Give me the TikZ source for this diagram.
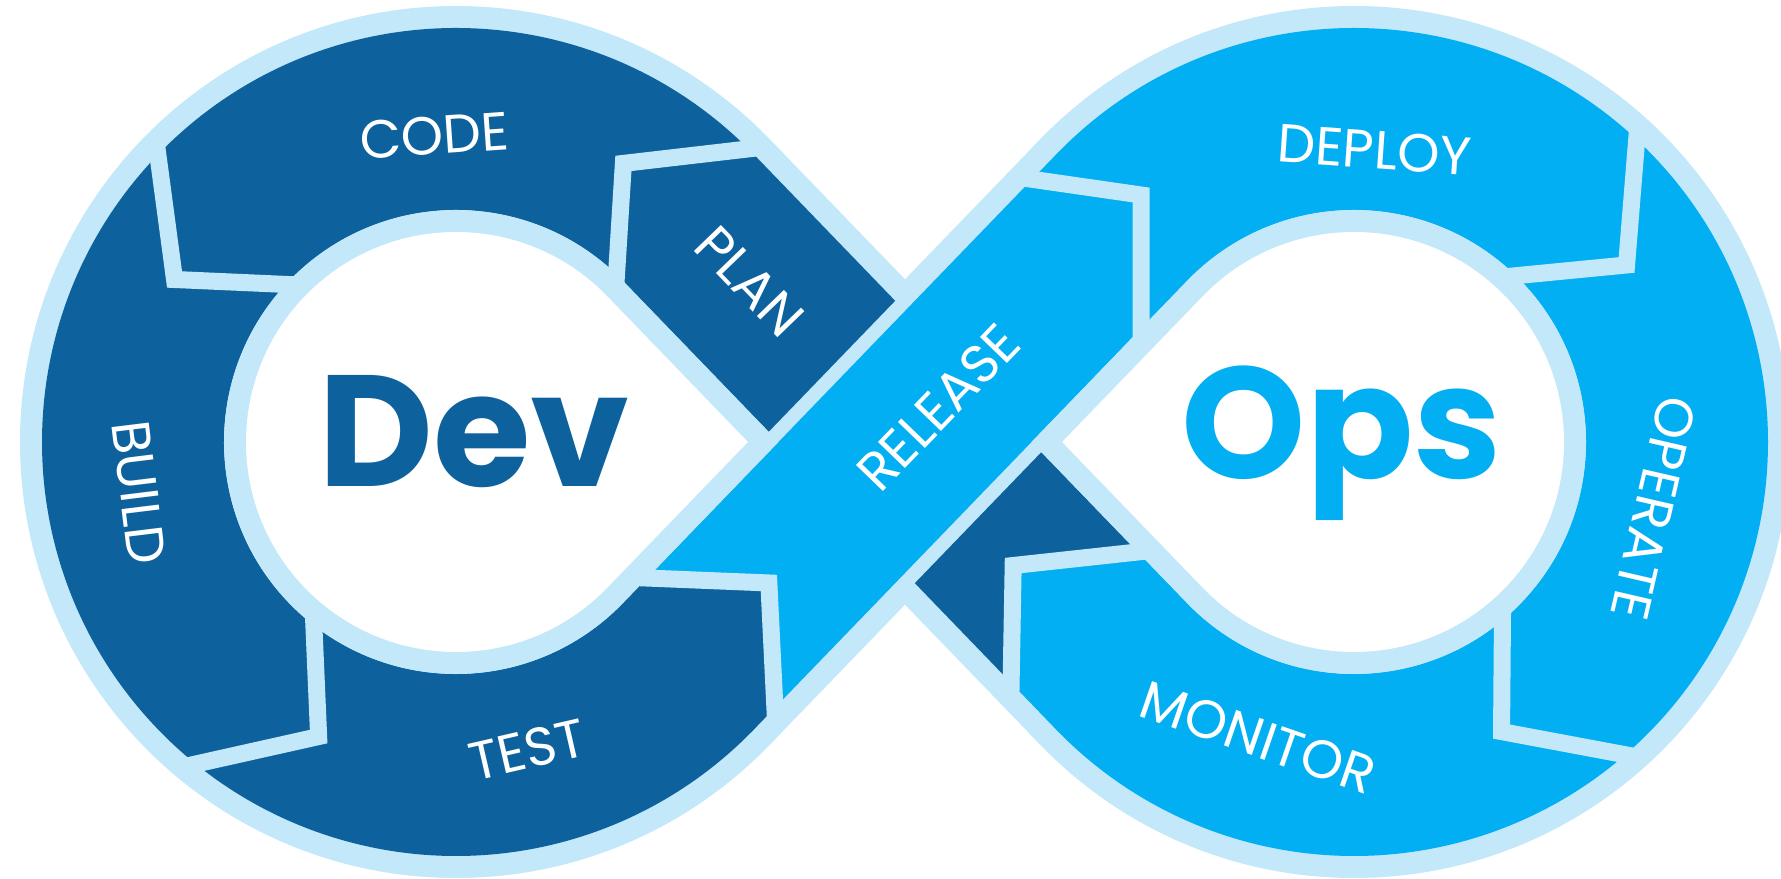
\documentclass[tikz,border=0pt]{standalone}
\usepackage{fontspec}
\setmainfont{Poppins}
\usetikzlibrary{calc}
\definecolor{devBlue}{RGB}{13,98,158}
\definecolor{opsBlue}{RGB}{3,175,243}
\definecolor{loopLight}{RGB}{194,232,250}

\begin{document}
\begin{tikzpicture}[x=0.01cm,y=0.01cm,
  stage/.style={text=white,inner sep=0pt,font=\fontsize{15.3}{18}\selectfont},
  side/.style={inner sep=0pt,anchor=base,font=\fontsize{45}{50}\selectfont\bfseries},
  seam/.style={draw=loopLight,line width=0.17cm,miter limit=10}]
\useasboundingbox (0,0) rectangle (1781,879);
\clip (0,0) rectangle (1781,879);
\coordinate (DevCentre) at (456,437);
\coordinate (OpsCentre) at (1354,437);
\coordinate (Cross) at (905,437);
% light outline of the loop
\fill[loopLight] (DevCentre) circle[radius=436] (OpsCentre) circle[radius=436];
\fill[loopLight,shift={(Cross)},rotate=46] (-312,-113) -- (312,-113) -- (312,113) -- (-312,113) -- cycle;
\fill[loopLight,shift={(Cross)},rotate=-46] (-312,-113) -- (312,-113) -- (312,113) -- (-312,113) -- cycle;
% the two round halves
\fill[devBlue] ($(DevCentre)+(44:414)$) arc[start angle=44,end angle=316,radius=414]
  -- ($(DevCentre)+(316:232)$) arc[start angle=316,end angle=44,radius=232] -- cycle;
\fill[opsBlue] ($(OpsCentre)+(136:414)$) arc[start angle=136,end angle=-136,radius=414]
  -- ($(OpsCentre)+(-136:232)$) arc[start angle=-136,end angle=136,radius=232] -- cycle;
% plan band, under release
\begin{scope}[shift={(Cross)},rotate=-46]
  \fill[devBlue] (-316,-91) -- (247,-91) -- (164,-8) -- (241,91) -- (-316,91) -- cycle;
  \fill[opsBlue] (241,91) -- (164,-8) -- (247,-91) -- (316,-91) -- (316,91) -- cycle;
  \draw[seam] (247,99) -- (164,-8) -- (258,-102);
  \node[stage,rotate=-46] (PlanLabel) at (-223,0) {PLAN};
\end{scope}
% release band
\begin{scope}[shift={(Cross)},rotate=46]
  \fill[loopLight] (-312,-105) -- (312,-105) -- (312,105) -- (-312,105) -- cycle;
  \fill[opsBlue] (-277,91) -- (-196,0) -- (-282,-91) -- (316,-91) -- (316,91) -- cycle;
  \fill[devBlue] (-316,-91) -- (-316,91) -- (-277,91) -- (-196,0) -- (-282,-91) -- cycle;
  \draw[seam] (-285,100) -- (-196,0) -- (-290,-100);
  \node[stage,rotate=46] (ReleaseLabel) at (48,0) {RELEASE};
\end{scope}
% seams between the stages
\foreach \a in {44,135,230}
  \draw[seam] ($(DevCentre)+(\a:424)$) -- ($(DevCentre)+({\a+15}:325)$) -- ($(DevCentre)+(\a:222)$);
\foreach \a in {48,-48}
  \draw[seam] ($(OpsCentre)+(\a:424)$) -- ($(OpsCentre)+({\a-15}:325)$) -- ($(OpsCentre)+(\a:222)$);
\draw[seam] (1016,702) -- (1141,684) -- (1141,530);
% the two holes
\fill[white,preaction={draw=loopLight,line width=0.44cm}] ($(DevCentre)+(291.9,0)$)
  -- ($(DevCentre)+(44:210)$) arc[start angle=44,end angle=316,radius=210] -- cycle;
\fill[white,preaction={draw=loopLight,line width=0.44cm}] ($(OpsCentre)+(-291.9,0)$)
  -- ($(OpsCentre)+(136:210)$) arc[start angle=136,end angle=-136,radius=210] -- cycle;
% labels
\node[stage,rotate=4] (CodeLabel) at ($(DevCentre)+(94:307)$) {CODE};
\node[stage,rotate=-83] (BuildLabel) at ($(DevCentre)+(189:321)$) {BUILD};
\node[stage,rotate=13] (TestLabel) at ($(DevCentre)+(-77:316)$) {TEST};
\node[stage,rotate=-4] (DeployLabel) at ($(OpsCentre)+(86:293)$) {DEPLOY};
\node[stage,rotate=-103] (OperateLabel) at ($(OpsCentre)+(-12.5:307)$) {OPERATE};
\node[stage,rotate=-19] (MonitorLabel) at ($(OpsCentre)+(-108:311)$) {MONITOR};
\node[side,text=devBlue] (DevLabel) at (474,392) {Dev};
\node[side,text=opsBlue] (OpsLabel) at (1342,400) {Ops};
\end{tikzpicture}
\end{document}
